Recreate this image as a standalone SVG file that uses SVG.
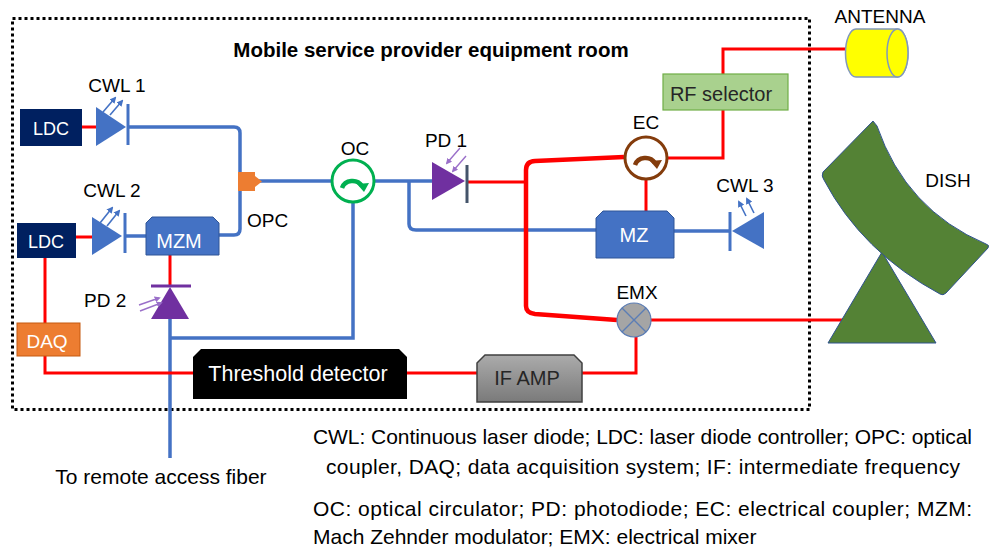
<svg xmlns="http://www.w3.org/2000/svg" width="990" height="548" viewBox="0 0 990 548">
  <style>
    text { font-family: "Liberation Sans", Arial, sans-serif; }
    .lbl { font-size: 19px; fill: #000; }
    .in { font-size: 19px; fill: #fff; text-anchor: middle; }
    .leg { font-size: 21px; fill: #000; }
    .opt { fill: none; stroke: #4472C4; stroke-width: 3.5; }
    .ele { fill: none; stroke: #FF0000; stroke-width: 3; }
    .ray { fill: none; stroke: #4472C4; stroke-width: 1.6; marker-end: url(#tipB); }
    .rayp { fill: none; stroke: #9A6FC9; stroke-width: 1.4; marker-end: url(#tipP); }
    .cwl { fill: #4472C4; }
    .pd { fill: #7030A0; }
  </style>
  <defs>
    <marker id="tipB" viewBox="0 0 10 10" refX="7" refY="5" markerWidth="4.2" markerHeight="4.2" orient="auto">
      <path d="M0,0 L10,5 L0,10 z" fill="#4472C4"/>
    </marker>
    <marker id="tipP" viewBox="0 0 10 10" refX="7" refY="5" markerWidth="4.4" markerHeight="4.4" orient="auto">
      <path d="M0,0 L10,5 L0,10 z" fill="#9A6FC9"/>
    </marker>
    <linearGradient id="gray" x1="0" y1="0" x2="0" y2="1">
      <stop offset="0" stop-color="#ABABAB"/>
      <stop offset="1" stop-color="#7A7A7A"/>
    </linearGradient>
  </defs>

  <rect width="990" height="548" fill="#fff"/>

  <!-- equipment room boundary -->
  <rect id="room" x="12.5" y="18.5" width="797" height="391" fill="none" stroke="#000" stroke-width="3" stroke-dasharray="3 3"/>
  <text x="431" y="57" text-anchor="middle" style="font-size:20.5px;font-weight:bold">Mobile service provider equipment room</text>

  <!-- connectors -->
  <g id="connectors">
    <!-- optical fibres -->
    <path class="opt" d="M128,127 H234 Q240,127 240,133 V229 Q240,235 234,235 H219"/>
    <path class="opt" d="M125,236 H146"/>
    <path class="opt" d="M255,181 H332"/>
    <path class="opt" d="M374,181 H432"/>
    <path class="opt" d="M409,181 V224 Q409,230 416,230 H596"/>
    <path class="opt" d="M674,231 H730"/>
    <path class="opt" d="M353,202 V338 H170"/>
    <path class="opt" d="M170,319 V458"/>
    <!-- electrical lines -->
    <path class="ele" d="M82,127 H96"/>
    <path class="ele" d="M76,237 H92"/>
    <path class="ele" d="M45,258 V323"/>
    <path class="ele" d="M45,356 V373 H193"/>
    <path class="ele" d="M170,255 V286"/>
    <path class="ele" d="M468,182 H526"/>
    <path class="ele" d="M624,157 L535,161 Q526,161.5 526,170 V306 Q526,313 535,314 L617,320" style="stroke-width:4.5"/>
    <path class="ele" d="M667,158 H723 V110"/>
    <path class="ele" d="M723,74 V49 H847"/>
    <path class="ele" d="M646,179 V211"/>
    <path class="ele" d="M651,320 H843"/>
    <path class="ele" d="M407,373 H477"/>
    <path class="ele" d="M582,373 H636 V337"/>
  </g>

  <!-- laser diode controllers -->
  <g id="ldc1">
    <rect x="20" y="109" width="62" height="37" fill="#002060"/>
    <text class="in" x="51" y="135" style="font-size:18px">LDC</text>
  </g>
  <g id="ldc2">
    <rect x="17" y="223" width="59" height="35" fill="#002060"/>
    <text class="in" x="46" y="248" style="font-size:18px">LDC</text>
  </g>

  <!-- CW lasers -->
  <g id="cwl1">
    <polygon class="cwl" points="96,107 96,146 126,127"/>
    <line x1="128" y1="104" x2="128" y2="145" stroke="#4472C4" stroke-width="3"/>
    <line class="ray" x1="103" y1="112" x2="115" y2="98"/>
    <line class="ray" x1="110" y1="115" x2="122" y2="101"/>
    <text class="lbl" x="117" y="92" text-anchor="middle">CWL 1</text>
  </g>
  <g id="cwl2">
    <polygon class="cwl" points="92,217 92,255 122,236"/>
    <line x1="125" y1="213" x2="125" y2="253" stroke="#4472C4" stroke-width="3"/>
    <line class="ray" x1="100" y1="223" x2="112" y2="208"/>
    <line class="ray" x1="107" y1="226" x2="119" y2="211"/>
    <text class="lbl" x="112" y="197" text-anchor="middle">CWL 2</text>
  </g>
  <g id="cwl3">
    <polygon class="cwl" points="764,212 764,249 732,231"/>
    <line x1="730" y1="212" x2="730" y2="251" stroke="#4472C4" stroke-width="3"/>
    <line class="ray" x1="746" y1="216" x2="739" y2="202"/>
    <line class="ray" x1="754" y1="213" x2="747" y2="199"/>
    <text class="lbl" x="745" y="192" text-anchor="middle">CWL 3</text>
  </g>

  <!-- modulators -->
  <g id="mzm">
    <path d="M146,223 L152,217 H213 L219,223 V255 H146 Z" fill="#4472C4" stroke="#2F5597" stroke-width="1"/>
    <text class="in" x="179" y="248" style="font-size:20px">MZM</text>
  </g>
  <g id="mz">
    <path d="M596,218 L603,211 H667 L674,218 V258 H596 Z" fill="#4472C4" stroke="#2F5597" stroke-width="1"/>
    <text class="in" x="634" y="242" style="font-size:20px">MZ</text>
  </g>

  <!-- optical coupler -->
  <g id="opc">
    <rect x="238" y="172" width="17" height="19" fill="#ED7D31"/>
    <polygon points="255,176 262,181.5 255,187" fill="#ED7D31"/>
    <text class="lbl" x="247" y="227">OPC</text>
  </g>

  <!-- optical circulator -->
  <g id="oc">
    <circle cx="353" cy="181" r="21" fill="#fff" stroke="#00B050" stroke-width="3"/>
    <path d="M342,188 A11,10 0 0 1 362,186" fill="none" stroke="#00B050" stroke-width="4.5"/>
    <polygon points="357,184 369,183 364,192" fill="#00B050"/>
    <text class="lbl" x="355" y="155" text-anchor="middle">OC</text>
  </g>

  <!-- photodiodes -->
  <g id="pd1">
    <polygon class="pd" points="432,162 432,200 465,181"/>
    <line x1="467" y1="165" x2="467" y2="203" stroke="#44546A" stroke-width="3"/>
    <line class="rayp" x1="460" y1="148" x2="447" y2="163"/>
    <line class="rayp" x1="466" y1="156" x2="453" y2="171"/>
    <text class="lbl" x="446" y="147" text-anchor="middle">PD 1</text>
  </g>
  <g id="pd2">
    <polygon class="pd" points="151,319 189,319 170,287"/>
    <line x1="151" y1="286" x2="191" y2="286" stroke="#7030A0" stroke-width="3"/>
    <line class="rayp" x1="139" y1="305" x2="159" y2="298"/>
    <line class="rayp" x1="140" y1="311" x2="161" y2="303"/>
    <text class="lbl" x="84" y="307">PD 2</text>
  </g>

  <!-- electrical coupler -->
  <g id="ec">
    <circle cx="646" cy="158" r="21" fill="#fff" stroke="#843C0C" stroke-width="3"/>
    <path d="M635,165 A11,10 0 0 1 655,163" fill="none" stroke="#843C0C" stroke-width="4.5"/>
    <polygon points="650,161 662,160 657,169" fill="#843C0C"/>
    <text class="lbl" x="646" y="129" text-anchor="middle">EC</text>
  </g>

  <!-- electrical mixer -->
  <g id="emx">
    <circle cx="634" cy="320" r="17" fill="#A5A5A5" stroke="#5B7DB5" stroke-width="1.2"/>
    <path d="M622,308 L646,332 M646,308 L622,332" stroke="#5B7DB5" stroke-width="1.4"/>
    <text class="lbl" x="637" y="299" text-anchor="middle">EMX</text>
  </g>

  <!-- RF selector -->
  <g id="rfsel">
    <rect x="663" y="74" width="125" height="36" fill="#A9D18E" stroke="#70AD47" stroke-width="1.2"/>
    <text x="721" y="101" text-anchor="middle" style="font-size:20px;fill:#262626">RF selector</text>
  </g>

  <!-- data acquisition -->
  <g id="daq">
    <rect x="17" y="323" width="63" height="33" fill="#ED7D31" stroke="#C55A11" stroke-width="1"/>
    <text class="in" x="47" y="348">DAQ</text>
  </g>

  <!-- threshold detector -->
  <g id="threshold">
    <path d="M193,357 L201,349 H399 L407,357 V399 H193 Z" fill="#000"/>
    <text class="in" x="298" y="381" style="font-size:21.5px">Threshold detector</text>
  </g>

  <!-- IF amplifier -->
  <g id="ifamp">
    <path d="M477,363 L485,355 H574 L582,363 V402 H477 Z" fill="url(#gray)" stroke="#404040" stroke-width="1.5"/>
    <text x="527" y="385" text-anchor="middle" style="font-size:20px;fill:#262626">IF AMP</text>
  </g>

  <!-- antenna -->
  <g id="antenna">
    <path d="M856,29 H897.5 A10.5,24 0 0 1 897.5,77 H856 A10.5,24 0 0 1 856,29 Z" fill="#FFFF00" stroke="#8198BC" stroke-width="1.5"/>
    <ellipse cx="897.5" cy="53" rx="10.5" ry="24" fill="#FFFF00" stroke="#8198BC" stroke-width="1.5"/>
    <text class="lbl" x="880" y="23" text-anchor="middle">ANTENNA</text>
  </g>

  <!-- dish -->
  <g id="dish">
    <polygon points="882,252 828,343 936,343" fill="#548235" stroke="#2F528F" stroke-width="1"/>
    <path d="M873,121 L823,172 Q821,176 824,180 Q862,252 940,294 Q943,296 946,293 L988,248 Q990,245 986,244 Q906,210 877,126 Z" fill="#548235" stroke="#2F528F" stroke-width="1"/>
    <text class="lbl" x="948" y="187" text-anchor="middle">DISH</text>
  </g>

  <!-- fibre exit -->
  <text class="leg" x="161" y="484" text-anchor="middle">To remote access fiber</text>

  <!-- abbreviations -->
  <g id="legend">
    <text class="leg" x="313" y="444" textLength="659" lengthAdjust="spacing">CWL: Continuous laser diode; LDC: laser diode controller; OPC: optical</text>
    <text class="leg" x="326" y="474" textLength="634" lengthAdjust="spacing">coupler, DAQ; data acquisition system; IF: intermediate frequency</text>
    <text class="leg" x="313" y="516" textLength="659" lengthAdjust="spacing">OC: optical circulator; PD: photodiode; EC: electrical coupler; MZM:</text>
    <text class="leg" x="313" y="544">Mach Zehnder modulator; EMX: electrical mixer</text>
  </g>
</svg>
